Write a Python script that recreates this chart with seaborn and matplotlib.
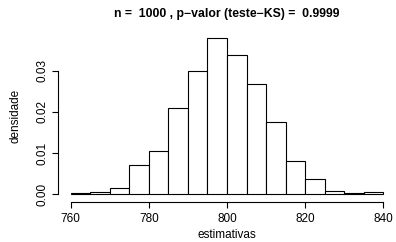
import numpy as np
import pandas as pd
import matplotlib
matplotlib.use("Agg")
import matplotlib.pyplot as plt
import seaborn as sns

# histogram data (1000 estimates, 5-unit bins)
bin_edges = [760, 765, 770, 775, 780, 785, 790, 795, 800, 805,
             810, 815, 820, 825, 830, 835, 840]
counts = [1, 3, 7, 35, 52, 105, 150, 190, 169, 134, 88, 40, 18, 4, 1, 3]
x_ticks = [760, 780, 800, 820, 840]
y_ticks = [0.00, 0.01, 0.02, 0.03]

title = "n =  1000 , p\u2212valor (teste\u2212KS) =  0.9999"

sns.set_style("white")
plt.rcParams["font.family"] = ["Liberation Sans", "DejaVu Sans"]
plt.rcParams["text.color"] = "black"
plt.rcParams["axes.labelcolor"] = "black"

edges = np.array(bin_edges, dtype=float)
df = pd.DataFrame({"mid": (edges[:-1] + edges[1:]) / 2, "n": counts})

fig = plt.figure(figsize=(3.96, 2.42), dpi=100)
ax = fig.add_axes([0.147, 0.1727, 0.8525, 0.6951])

sns.histplot(data=df, x="mid", weights="n", bins=bin_edges, stat="density",
             color="white", edgecolor="black", linewidth=0.8, alpha=1, ax=ax)

ax.set_xlim(756.8, 843.2)
ax.set_ylim(-0.00152, 0.0395)

for side in ["top", "right"]:
    ax.spines[side].set_visible(False)
ax.spines["bottom"].set_bounds(760, 840)
ax.spines["left"].set_bounds(0, 0.03)
ax.spines["bottom"].set_position(("outward", 1.5))
for side in ["bottom", "left"]:
    ax.spines[side].set_linewidth(0.8)
    ax.spines[side].set_color("black")

ax.set_xticks(x_ticks)
ax.set_xticklabels([str(t) for t in x_ticks])
ax.set_yticks(y_ticks)
ax.set_yticklabels([f"{t:.2f}" for t in y_ticks], rotation=90, va="center")
ax.tick_params(axis="both", direction="out", length=4, width=0.8,
               color="black", labelcolor="black", labelsize=8.5,
               bottom=True, left=True)
ax.tick_params(axis="x", pad=4)
ax.tick_params(axis="y", pad=3)

ax.set_xlabel("estimativas", fontsize=8.5, labelpad=2.5)
ax.set_ylabel("densidade", fontsize=8.5, labelpad=11)
ax.set_title(title, fontsize=8.8, fontweight="bold", pad=11)

fig.savefig("out.png", dpi=100)
